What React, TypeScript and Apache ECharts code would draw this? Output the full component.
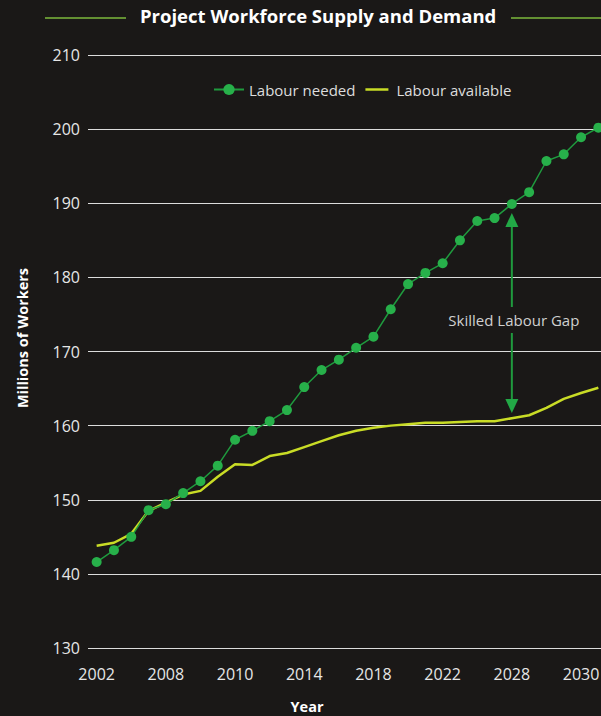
import React, { useEffect, useRef } from "react";
import * as echarts from "echarts";

const categories = [
  "2002", "2003", "2004", "2005", "2006", "2007", "2008", "2009", "2010", "2011",
  "2012", "2013", "2014", "2015", "2016", "2017", "2018", "2019", "2020", "2021",
  "2022", "2023", "2024", "2025", "2026", "2027", "2028", "2029", "2030", "2031",
];
const tickLabels = ["2002", "2008", "2010", "2014", "2018", "2022", "2028", "2030"];
const labourNeeded = [
  141.6, 143.2, 145.0, 148.6, 149.4, 150.9, 152.5, 154.6, 158.1, 159.3,
  160.6, 162.1, 165.2, 167.5, 168.9, 170.5, 172.0, 175.7, 179.1, 180.6,
  181.9, 185.0, 187.6, 188.0, 189.9, 191.5, 195.7, 196.6, 198.9, 200.2,
];
const labourAvailable = [
  143.8, 144.2, 145.4, 148.5, 149.6, 150.7, 151.2, 153.1, 154.8, 154.7,
  155.9, 156.3, 157.1, 157.9, 158.7, 159.3, 159.7, 160.0, 160.2, 160.4,
  160.4, 160.5, 160.6, 160.6, 161.0, 161.4, 162.4, 163.6, 164.4, 165.1,
];
const gapIndex = 24;
const gapTop = 188.7;
const gapBottom = 161.7;
const gapLabelValue = 174.25;
const gapLabel = "Skilled Labour Gap";

const FONT = "'Open Sans', 'Noto Sans', sans-serif";
const BG = "#1a1817";
const GREEN_LINE = "#1f9a3e";
const GREEN_DOT = "#27b04a";
const YELLOW = "#c9dc26";

export default function App() {
  const ref = useRef<HTMLDivElement>(null);
  useEffect(() => {
    if (!ref.current) return;
    const chart = echarts.init(ref.current, null, { renderer: "svg" });
    chart.setOption({
      animation: false,
      backgroundColor: BG,
      textStyle: { fontFamily: FONT },
      title: {
        text: "Project Workforce Supply and Demand",
        left: 140,
        top: 6,
        padding: 0,
        textStyle: { color: "#ffffff", fontSize: 18.5, fontWeight: "bold", fontFamily: FONT },
      },
      legend: {
        left: 213,
        top: 82,
        padding: 0,
        itemWidth: 30,
        itemHeight: 14,
        itemGap: 6,
        textStyle: { color: "#dddddd", fontSize: 15, fontFamily: FONT },
        data: [
          { name: "Labour needed" },
          { name: "Labour available", icon: "path://M0,0M4,5.75h23v2.5h-23zM30,14" },
        ],
      },
      grid: { left: 88, right: 0, top: 55, bottom: 68, containLabel: false },
      xAxis: {
        type: "category",
        data: categories,
        boundaryGap: true,
        axisLine: { show: false },
        axisTick: { show: false },
        splitLine: { show: false },
        axisLabel: {
          interval: 0,
          margin: 18,
          color: "#e6e6e6",
          fontSize: 16,
          fontFamily: FONT,
          formatter: (_v: string, idx: number) => (idx % 4 === 0 ? tickLabels[idx / 4] ?? "" : ""),
        },
      },
      yAxis: {
        type: "value",
        min: 130,
        max: 210,
        interval: 10,
        axisLine: { show: false },
        axisTick: { show: false },
        axisLabel: { color: "#e6e6e6", fontSize: 16, margin: 8, fontFamily: FONT },
        splitLine: { lineStyle: { color: "#dcdcdc", width: 1.2 } },
      },
      series: [
        {
          name: "Labour needed",
          type: "line",
          data: labourNeeded,
          symbol: "circle",
          symbolSize: 10,
          lineStyle: { color: GREEN_LINE, width: 1.5 },
          itemStyle: { color: GREEN_DOT },
          z: 3,
        },
        {
          name: "Labour available",
          type: "line",
          data: labourAvailable,
          symbol: "none",
          lineStyle: { color: YELLOW, width: 2.5 },
          itemStyle: { color: YELLOW },
          z: 2,
        },
      ],
    });

    const top = chart.convertToPixel({ gridIndex: 0 }, [gapIndex, gapTop]) as number[];
    const bot = chart.convertToPixel({ gridIndex: 0 }, [gapIndex, gapBottom]) as number[];
    const mid = chart.convertToPixel({ gridIndex: 0 }, [gapIndex, gapLabelValue]) as number[];
    const x = top[0];
    const head = 14;
    const hw = 6.5;
    const arrowColor = "#1f9a3e";
    chart.setOption({
      graphic: [
        { type: "line", shape: { x1: 45, y1: 18, x2: 126, y2: 18 }, style: { stroke: "#7db83c", lineWidth: 1.5 } },
        { type: "line", shape: { x1: 511, y1: 18, x2: 607, y2: 18 }, style: { stroke: "#7db83c", lineWidth: 1.5 } },
        {
          type: "text",
          x: 22,
          y: 338,
          rotation: Math.PI / 2,
          style: {
            text: "Millions of Workers",
            fill: "#ffffff",
            font: `bold 14.5px ${FONT}`,
            align: "center",
            verticalAlign: "middle",
          },
        },
        {
          type: "text",
          x: 307,
          y: 706,
          style: {
            text: "Year",
            fill: "#ffffff",
            font: `bold 14.5px ${FONT}`,
            align: "center",
            verticalAlign: "middle",
          },
        },
        { type: "line", shape: { x1: x, y1: top[1] + head, x2: x, y2: mid[1] - 13 }, style: { stroke: arrowColor, lineWidth: 2 } },
        { type: "line", shape: { x1: x, y1: mid[1] + 13, x2: x, y2: bot[1] - head }, style: { stroke: arrowColor, lineWidth: 2 } },
        { type: "polygon", shape: { points: [[x, top[1]], [x - hw, top[1] + head], [x + hw, top[1] + head]] }, style: { fill: "#22a846" } },
        { type: "polygon", shape: { points: [[x, bot[1]], [x - hw, bot[1] - head], [x + hw, bot[1] - head]] }, style: { fill: "#22a846" } },
        {
          type: "text",
          x: x + 2,
          y: mid[1],
          style: {
            text: gapLabel,
            fill: "#d0d0d0",
            font: `15px ${FONT}`,
            align: "center",
            verticalAlign: "middle",
          },
        },
      ],
    });

    return () => chart.dispose();
  }, []);
  return (
    <div style={{ position: "absolute", left: 0, top: 0, width: 601, height: 716, overflow: "hidden" }}>
      <div ref={ref} style={{ width: 607, height: 716 }} />
    </div>
  );
}
